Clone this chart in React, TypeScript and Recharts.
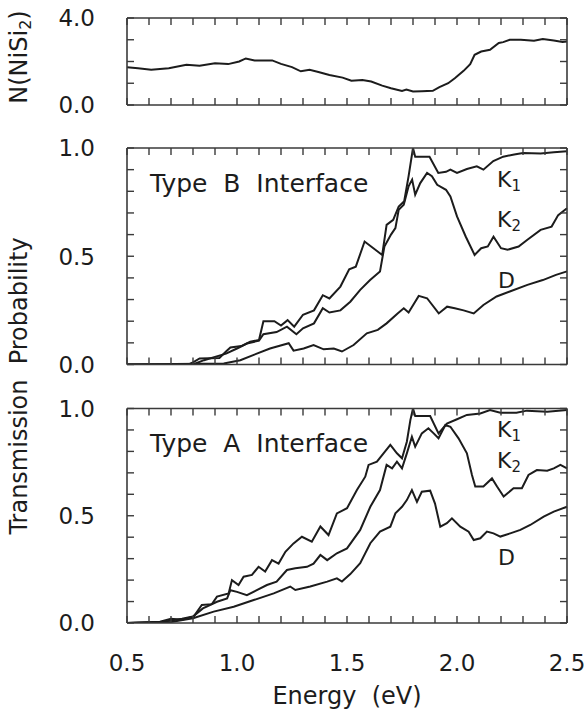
import React from 'react';
import { LineChart, Line, XAxis, YAxis } from 'recharts';

const W = 586;
const H = 711;
const FONT = '"DejaVu Sans", Verdana, sans-serif';
const INK = '#1c1c1c';
const FRAME = '#3a3a3a';
const TICK = 7;
const PLOT_L = 127;
const PLOT_R = 567;

// axis ticks
const energyTicks = [0.5, 0.6, 0.7, 0.8, 0.9, 1.0, 1.1, 1.2, 1.3, 1.4, 1.5, 1.6, 1.7, 1.8, 1.9, 2.0, 2.1, 2.2, 2.3, 2.4, 2.5];
const energyLabels = [0.5, 1.0, 1.5, 2.0, 2.5];
const probTicks = [0, 0.1, 0.2, 0.3, 0.4, 0.5, 0.6, 0.7, 0.8, 0.9, 1.0];
const probLabels = [0, 0.5, 1.0];
const nTicks = [0, 1, 2, 3, 4];
const nLabels = [0, 4];

// N(NiSi2)
const nE = [0.5, 0.55, 0.61, 0.69, 0.77, 0.83, 0.9, 0.96, 1.01, 1.04, 1.08, 1.16, 1.2, 1.25, 1.29, 1.33, 1.37, 1.42, 1.48, 1.52, 1.57, 1.61, 1.66, 1.7, 1.75, 1.77, 1.8, 1.84, 1.89, 1.92, 1.96, 1.99, 2.03, 2.06, 2.08, 2.11, 2.15, 2.19, 2.21, 2.24, 2.29, 2.35, 2.39, 2.44, 2.48, 2.5];
const nVal = [1.74, 1.69, 1.62, 1.69, 1.85, 1.8, 1.92, 1.88, 2.0, 2.14, 2.05, 2.05, 1.89, 1.74, 1.55, 1.62, 1.52, 1.38, 1.26, 1.12, 1.15, 1.08, 0.89, 0.77, 0.65, 0.71, 0.62, 0.63, 0.65, 0.82, 1.0, 1.23, 1.57, 1.88, 2.31, 2.46, 2.54, 2.85, 2.89, 3.0, 3.0, 2.95, 3.03, 2.97, 2.9, 2.92];

// Type B interface
const bK1E = [0.5, 0.78, 0.8, 0.83, 0.92, 0.95, 0.97, 1.02, 1.06, 1.1, 1.12, 1.17, 1.2, 1.23, 1.26, 1.3, 1.35, 1.39, 1.42, 1.47, 1.51, 1.54, 1.58, 1.62, 1.66, 1.68, 1.71, 1.735, 1.76, 1.78, 1.8, 1.81, 1.875, 1.915, 1.95, 1.97, 2.0, 2.045, 2.09, 2.12, 2.165, 2.21, 2.26, 2.3, 2.38, 2.44, 2.5];
const bK1 = [0, 0, 0.01, 0.028, 0.03, 0.06, 0.079, 0.085, 0.105, 0.113, 0.2, 0.2, 0.18, 0.205, 0.175, 0.23, 0.25, 0.32, 0.305, 0.36, 0.44, 0.452, 0.568, 0.537, 0.506, 0.645, 0.668, 0.73, 0.754, 0.87, 1.0, 0.96, 0.96, 0.885, 0.89, 0.9, 0.885, 0.903, 0.915, 0.9, 0.94, 0.96, 0.97, 0.977, 0.975, 0.98, 0.985];
const bK2E = [0.5, 0.8, 0.85, 0.95, 1.0, 1.045, 1.1, 1.12, 1.18, 1.227, 1.27, 1.3, 1.35, 1.39, 1.42, 1.47, 1.515, 1.56, 1.605, 1.65, 1.67, 1.7, 1.72, 1.735, 1.758, 1.78, 1.796, 1.81, 1.833, 1.864, 1.886, 1.91, 1.95, 1.97, 2.0, 2.04, 2.08, 2.11, 2.14, 2.166, 2.2, 2.23, 2.28, 2.32, 2.38, 2.43, 2.46, 2.5];
const bK2 = [0, 0, 0.02, 0.05, 0.074, 0.097, 0.11, 0.14, 0.15, 0.175, 0.14, 0.167, 0.19, 0.26, 0.24, 0.25, 0.29, 0.345, 0.39, 0.43, 0.545, 0.6, 0.63, 0.715, 0.738, 0.823, 0.854, 0.784, 0.838, 0.885, 0.87, 0.83, 0.807, 0.776, 0.684, 0.59, 0.506, 0.537, 0.545, 0.59, 0.537, 0.53, 0.545, 0.576, 0.622, 0.637, 0.69, 0.722];
const bDE = [0.5, 0.94, 1.015, 1.09, 1.15, 1.235, 1.257, 1.303, 1.348, 1.394, 1.44, 1.477, 1.53, 1.59, 1.64, 1.68, 1.73, 1.758, 1.78, 1.826, 1.864, 1.917, 1.955, 1.99, 2.03, 2.076, 2.12, 2.18, 2.24, 2.32, 2.39, 2.45, 2.5];
const bD = [0, 0.005, 0.02, 0.05, 0.074, 0.098, 0.064, 0.074, 0.09, 0.07, 0.074, 0.06, 0.09, 0.144, 0.16, 0.19, 0.236, 0.26, 0.24, 0.317, 0.306, 0.236, 0.267, 0.26, 0.25, 0.236, 0.275, 0.314, 0.337, 0.368, 0.39, 0.414, 0.43];

// Type A interface
const aK1E = [0.5, 0.65, 0.7, 0.75, 0.803, 0.84, 0.886, 0.909, 0.962, 0.977, 1.007, 1.03, 1.068, 1.098, 1.128, 1.159, 1.189, 1.22, 1.257, 1.295, 1.34, 1.379, 1.416, 1.454, 1.5, 1.545, 1.583, 1.598, 1.636, 1.666, 1.697, 1.727, 1.75, 1.772, 1.788, 1.8, 1.81, 1.878, 1.916, 1.954, 2.0, 2.045, 2.106, 2.15, 2.197, 2.27, 2.318, 2.41, 2.5];
const aK1 = [0, 0.006, 0.02, 0.015, 0.03, 0.084, 0.088, 0.123, 0.138, 0.2, 0.177, 0.216, 0.224, 0.262, 0.24, 0.293, 0.277, 0.332, 0.371, 0.402, 0.379, 0.45, 0.41, 0.511, 0.535, 0.62, 0.682, 0.737, 0.752, 0.791, 0.83, 0.791, 0.768, 0.845, 0.946, 1.0, 0.965, 0.965, 0.884, 0.93, 0.95, 0.97, 0.977, 0.993, 0.98, 0.98, 0.99, 0.985, 0.993];
const aK2E = [0.5, 0.65, 0.7, 0.75, 0.8, 0.845, 0.909, 0.955, 0.97, 1.0, 1.045, 1.09, 1.136, 1.18, 1.227, 1.265, 1.318, 1.348, 1.379, 1.41, 1.454, 1.5, 1.56, 1.606, 1.65, 1.68, 1.705, 1.727, 1.75, 1.772, 1.795, 1.81, 1.84, 1.87, 1.894, 1.916, 1.947, 1.97, 2.007, 2.045, 2.068, 2.083, 2.12, 2.159, 2.182, 2.212, 2.257, 2.295, 2.325, 2.363, 2.41, 2.44, 2.47, 2.5];
const aK2 = [0, 0.004, 0.012, 0.02, 0.03, 0.068, 0.099, 0.115, 0.153, 0.145, 0.13, 0.153, 0.177, 0.193, 0.247, 0.255, 0.262, 0.277, 0.317, 0.293, 0.325, 0.348, 0.434, 0.542, 0.62, 0.737, 0.721, 0.752, 0.721, 0.791, 0.868, 0.822, 0.884, 0.908, 0.884, 0.861, 0.923, 0.915, 0.861, 0.791, 0.69, 0.636, 0.636, 0.674, 0.636, 0.59, 0.628, 0.628, 0.69, 0.713, 0.71, 0.721, 0.737, 0.721];
const aDE = [0.5, 0.7, 0.8, 0.894, 0.985, 1.076, 1.167, 1.242, 1.265, 1.333, 1.41, 1.454, 1.477, 1.515, 1.56, 1.606, 1.65, 1.697, 1.72, 1.75, 1.772, 1.795, 1.818, 1.84, 1.878, 1.9, 1.924, 1.954, 1.977, 2.015, 2.053, 2.076, 2.106, 2.136, 2.166, 2.197, 2.242, 2.288, 2.333, 2.394, 2.44, 2.5];
const aD = [0, 0.005, 0.022, 0.053, 0.076, 0.107, 0.138, 0.17, 0.154, 0.17, 0.193, 0.208, 0.193, 0.228, 0.279, 0.372, 0.426, 0.449, 0.511, 0.542, 0.573, 0.62, 0.565, 0.612, 0.617, 0.557, 0.449, 0.465, 0.488, 0.449, 0.426, 0.387, 0.395, 0.426, 0.418, 0.403, 0.418, 0.434, 0.457, 0.496, 0.519, 0.542];

const zip = (e: number[], v: number[]) => e.map((x, i) => ({ e: x, v: v[i] }));
const has = (list: number[], v: number) => list.some((l) => Math.abs(l - v) < 1e-6);

const frameLine = { stroke: FRAME, strokeWidth: 1.6 };
const labelStyle = { fontFamily: FONT, fontSize: 23, fill: INK };

// Only axes that a series uses get ticks, so the bottom tick also draws its
// mirror on the top edge and the left tick its mirror on the right edge.
function XTick({ x, y, payload, labels, span }: any) {
  const v = payload.value;
  return (
    <g>
      <line x1={x} y1={y} x2={x} y2={y - TICK} stroke={FRAME} strokeWidth={1.4} />
      <line x1={x} y1={y - span} x2={x} y2={y - span + TICK} stroke={FRAME} strokeWidth={1.4} />
      {has(labels, v) && (
        <text x={x} y={y + 48} textAnchor="middle" {...labelStyle}>
          {v.toFixed(1)}
        </text>
      )}
    </g>
  );
}

function YTick({ x, y, payload, labels, span }: any) {
  const v = payload.value;
  return (
    <g>
      <line x1={x} y1={y} x2={x + TICK} y2={y} stroke={FRAME} strokeWidth={1.4} />
      <line x1={x + span} y1={y} x2={x + span - TICK} y2={y} stroke={FRAME} strokeWidth={1.4} />
      {has(labels, v) && (
        <text x={x - 32} y={y} dy="0.36em" textAnchor="end" {...labelStyle}>
          {v.toFixed(1)}
        </text>
      )}
    </g>
  );
}

interface PanelProps {
  top: number;
  bottom: number;
  yMax: number;
  yTicks: number[];
  yLabels: number[];
  xLabels: number[];
  series: { e: number; v: number }[][];
}

// every axis is 1px thick so it still renders; margins put the plot box where the reference has it
const Panel: React.FC<PanelProps> = ({ top, bottom, yMax, yTicks, yLabels, xLabels, series }) => (
  <div style={{ position: 'absolute', left: 0, top: 0 }}>
    <LineChart width={W} height={H} margin={{ top: top - 1, bottom: H - bottom - 1, left: PLOT_L - 1, right: W - PLOT_R - 1 }}>
      <XAxis
        xAxisId="b"
        type="number"
        dataKey="e"
        domain={[0.5, 2.5]}
        ticks={energyTicks}
        interval={0}
        height={1}
        tickSize={0}
        tickMargin={0}
        tickLine={false}
        axisLine={frameLine}
        tick={(p: any) => <XTick {...p} labels={xLabels} span={bottom - top} />}
      />
      <XAxis xAxisId="t" orientation="top" type="number" domain={[0.5, 2.5]} height={1} tick={false} tickLine={false} axisLine={frameLine} />
      <YAxis
        yAxisId="l"
        type="number"
        domain={[0, yMax]}
        ticks={yTicks}
        interval={0}
        width={1}
        tickSize={0}
        tickMargin={0}
        tickLine={false}
        axisLine={frameLine}
        allowDataOverflow
        tick={(p: any) => <YTick {...p} labels={yLabels} span={PLOT_R - PLOT_L} />}
      />
      <YAxis yAxisId="r" orientation="right" type="number" domain={[0, yMax]} width={1} tick={false} tickLine={false} axisLine={frameLine} />
      {series.map((d, i) => (
        <Line
          key={i}
          xAxisId="b"
          yAxisId="l"
          data={d}
          dataKey="v"
          type="linear"
          stroke={INK}
          strokeWidth={2}
          dot={false}
          isAnimationActive={false}
        />
      ))}
    </LineChart>
  </div>
);

const txt = { fontFamily: FONT, fill: INK };

export default function App() {
  return (
    <div style={{ position: 'absolute', left: 0, top: 0, width: W, height: H, background: '#fff' }}>
      <Panel top={18} bottom={105} yMax={4} yTicks={nTicks} yLabels={nLabels} xLabels={[]} series={[zip(nE, nVal)]} />
      <Panel
        top={148}
        bottom={364.5}
        yMax={1}
        yTicks={probTicks}
        yLabels={probLabels}
        xLabels={[]}
        series={[zip(bK1E, bK1), zip(bK2E, bK2), zip(bDE, bD)]}
      />
      <Panel
        top={408.5}
        bottom={623}
        yMax={1}
        yTicks={probTicks}
        yLabels={probLabels}
        xLabels={energyLabels}
        series={[zip(aK1E, aK1), zip(aK2E, aK2), zip(aDE, aD)]}
      />
      <svg width={W} height={H} style={{ position: 'absolute', left: 0, top: 0, pointerEvents: 'none' }}>
        <text x={27} y={57} transform="rotate(-90 27 57)" textAnchor="middle" fontSize={24} {...txt}>
          N(NiSi<tspan fontSize={16} dy={4}>2</tspan>
          <tspan dy={-4}>)</tspan>
        </text>
        <text x={27} y={386} transform="rotate(-90 27 386)" textAnchor="middle" fontSize={24} {...txt} style={{ whiteSpace: 'pre' }}>
          {'Transmission  Probability'}
        </text>
        <text x={347} y={704} textAnchor="middle" fontSize={24} {...txt} style={{ whiteSpace: 'pre' }}>
          {'Energy  (eV)'}
        </text>
        <text x={150} y={192} fontSize={25} {...txt} style={{ whiteSpace: 'pre' }}>
          {'Type  B  Interface'}
        </text>
        <text x={150} y={452} fontSize={25} {...txt} style={{ whiteSpace: 'pre' }}>
          {'Type  A  Interface'}
        </text>
        <text x={497} y={187} fontSize={22} {...txt}>
          K<tspan fontSize={15} dy={4}>1</tspan>
        </text>
        <text x={497} y={227} fontSize={22} {...txt}>
          K<tspan fontSize={15} dy={4}>2</tspan>
        </text>
        <text x={498} y={288} fontSize={22} {...txt}>
          D
        </text>
        <text x={497} y={437} fontSize={22} {...txt}>
          K<tspan fontSize={15} dy={4}>1</tspan>
        </text>
        <text x={497} y={468} fontSize={22} {...txt}>
          K<tspan fontSize={15} dy={4}>2</tspan>
        </text>
        <text x={498} y={565} fontSize={22} {...txt}>
          D
        </text>
      </svg>
    </div>
  );
}
